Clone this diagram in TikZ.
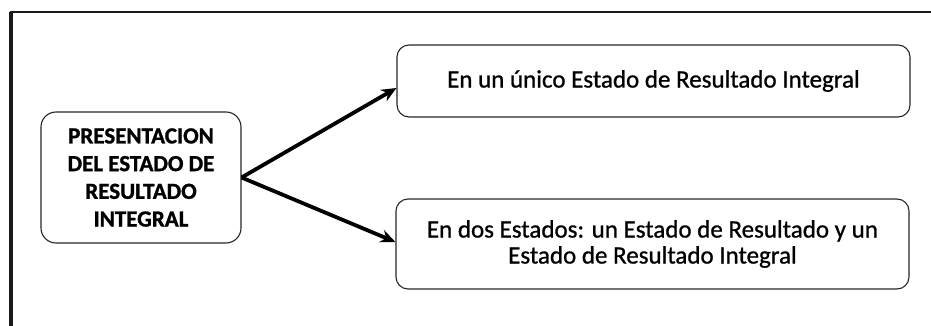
\documentclass[tikz,border=0pt]{standalone}
\usepackage{fontspec}
\setmainfont{Carlito}
\newfontfamily\scanfont[FakeBold=0.9]{Carlito}
\newfontfamily\scanbold[FakeBold=1.2]{Carlito Bold}
\usetikzlibrary{arrows.meta}
\tikzset{
  box/.style={draw=black!85, line width=1.1pt, rounded corners=12pt, align=center, inner sep=0pt},
  conn/.style={line width=3.8pt, -{Stealth[length=15pt, width=13pt, inset=5pt]}},
  frameline/.style={line width=3.5pt, black!90}
}
\begin{document}
\begin{tikzpicture}[x=1pt, y=-1pt]
\useasboundingbox (0,0) rectangle (931,326);
% frame
\draw[frameline] (11,326) -- (11,12);
\draw[line width=2.8pt, black!90] (9.5,12) -- (931,12);
% boxes
\node[box, minimum width=200pt, minimum height=131pt, rounded corners=15pt,
      font=\fontsize{23}{27.7}\selectfont\scanbold] (src) at (141,177.5)
  {PRESENTACION\\DEL ESTADO DE\\RESULTADO\\INTEGRAL};
\node[box, minimum width=513pt, minimum height=72pt,
      font=\fontsize{25}{28}\selectfont\scanfont] (one) at (653.5,81)
  {En un único Estado de Resultado Integral};
\node[box, minimum width=513pt, minimum height=90pt,
      font=\fontsize{25}{26}\selectfont\scanfont] (two) at (652.5,244)
  {En dos Estados: un Estado de Resultado y un\\Estado de Resultado Integral};
% connectors
\draw[conn] (src.east) -- ([yshift=-7pt]one.west);
\draw[conn] (src.east) -- ([yshift=2pt]two.west);
\end{tikzpicture}
\end{document}
